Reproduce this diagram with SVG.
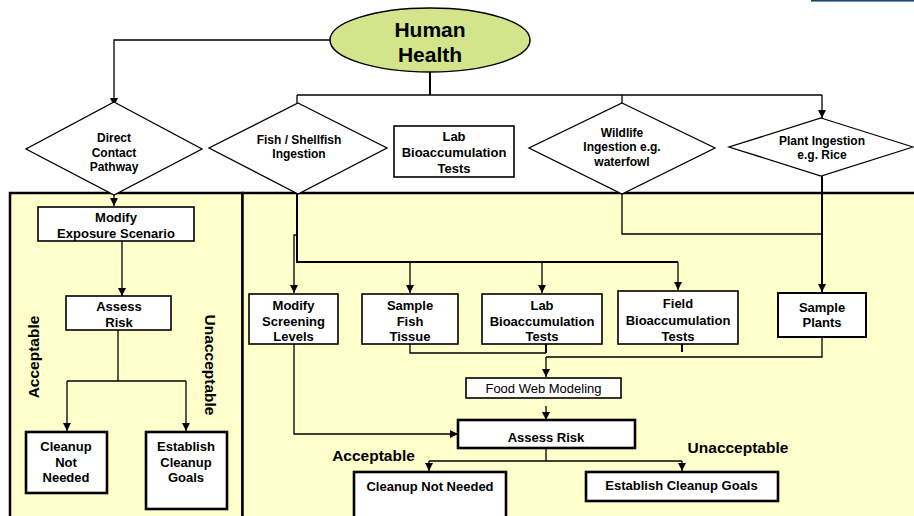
<svg xmlns="http://www.w3.org/2000/svg" width="914" height="516" viewBox="0 0 914 516">
  <defs>
    <marker id="arrow" markerUnits="userSpaceOnUse" markerWidth="8" markerHeight="8" refX="8" refY="4" orient="auto">
      <path d="M0,0 L8,4 L0,8 z" fill="#000"/>
    </marker>
    <style>
      .panel { fill: #FFFFCC; stroke: #000; stroke-width: 2.5; }
      .box { fill: #fff; stroke: #000; stroke-width: 1.6; }
      .boxb { fill: #fff; stroke: #000; stroke-width: 2.6; }
      .dia { fill: #fff; stroke: #000; stroke-width: 1.3; }
      .ln { fill: none; stroke: #000; stroke-width: 1.3; }
      .lnb { fill: none; stroke: #000; stroke-width: 2; }
      .arr { marker-end: url(#arrow); }
      text { font-family: "Liberation Sans", Arial, sans-serif; font-weight: bold; text-anchor: middle; fill: #000; }
      .t12 { font-size: 12px; }
      .t13 { font-size: 13px; }
      .lbl { font-size: 15.5px; }
      .title { font-size: 21px; }
      .reg { font-weight: normal; font-size: 13px; }
    </style>
  </defs>

  <rect width="914" height="516" fill="#fff"/>
  <rect x="811" y="0" width="103" height="1.6" fill="#1a4a6e"/>

  <!-- panels -->
  <g id="panel-direct">
    <rect class="panel" x="10" y="193" width="232.5" height="340"/>
  </g>
  <g id="panel-ingestion">
    <rect class="panel" x="242.5" y="193" width="690" height="340"/>
  </g>

  <!-- connectors -->
  <g id="connectors">
    <path class="ln arr" d="M330,40 H114 V106"/>
    <path class="lnb" d="M430,72 V95"/>
    <path class="ln" d="M297,95 H822"/>
    <path class="ln" d="M297,95 V103"/>
    <path class="ln arr" d="M622,95 V117"/>
    <path class="ln arr" d="M822,95 V118"/>

    <path class="ln arr" d="M114,177 V206"/>

    <path class="lnb" d="M297,176 V262 H678"/>
    <path class="ln arr" d="M410,262 V293"/>
    <path class="ln arr" d="M542,262 V293"/>
    <path class="ln arr" d="M678,262 V290"/>
    <path class="ln arr" d="M297,235 H294 V293"/>

    <path class="ln" d="M622,176 V234 H822"/>
    <path class="lnb arr" d="M822,176 V292"/>

    <path class="ln" d="M410,344 V353 H546"/>
    <path class="lnb" d="M546,344 V353"/>
    <path class="lnb" d="M682,344 V352"/>
    <path class="ln" d="M546,357 H822 V337"/>
    <path class="ln arr" d="M546,357 V377"/>

    <path class="ln arr" d="M546,406 V420"/>
    <path class="ln arr" d="M294,344 V434 H458"/>

    <path class="ln" d="M546,448 V461"/>
    <path class="ln" d="M429,461 H682"/>
    <path class="ln arr" d="M429,461 V471"/>
    <path class="ln arr" d="M682,461 V471"/>

    <path class="ln arr" d="M122,241 V296"/>
    <path class="ln" d="M118,330 V381"/>
    <path class="ln" d="M67,381 H186"/>
    <path class="ln arr" d="M67,381 V431"/>
    <path class="ln arr" d="M186,381 V431"/>
  </g>

  <!-- root -->
  <g id="human-health">
    <ellipse cx="430" cy="40" rx="100" ry="32" fill="#D2E58B" stroke="#000" stroke-width="1.5"/>
    <text class="title" x="430" y="36.5">Human</text>
    <text class="title" x="430" y="61.5">Health</text>
  </g>

  <!-- pathways -->
  <g id="direct-contact">
    <polygon class="dia" points="114,102 202,149 114,195 26,149"/>
    <text class="t12" x="114" y="142">Direct</text>
    <text class="t12" x="114" y="156.5">Contact</text>
    <text class="t12" x="114" y="171">Pathway</text>
  </g>
  <g id="fish-ingestion">
    <polygon class="dia" points="298,103 387,148 298,194 209,148"/>
    <text class="t12" x="299" y="144">Fish / Shellfish</text>
    <text class="t12" x="299" y="158">Ingestion</text>
  </g>
  <g id="lab-bioaccumulation-top">
    <rect class="box" x="394" y="126" width="120" height="51"/>
    <text class="t13" x="454" y="141">Lab</text>
    <text class="t13" x="454" y="157">Bioaccumulation</text>
    <text class="t13" x="454" y="173">Tests</text>
  </g>
  <g id="wildlife-ingestion">
    <polygon class="dia" points="622,103 715,148 622,194 529,148"/>
    <text class="t12" x="622" y="137">Wildlife</text>
    <text class="t12" x="622" y="151">Ingestion e.g.</text>
    <text class="t12" x="622" y="166">waterfowl</text>
  </g>
  <g id="plant-ingestion">
    <polygon class="dia" points="821,118 913,147 821,176 729,147"/>
    <text class="t12" x="822" y="145">Plant Ingestion</text>
    <text class="t12" x="822" y="159">e.g. Rice</text>
  </g>

  <!-- direct contact branch -->
  <g id="modify-exposure">
    <rect class="box" x="38" y="207" width="156" height="34"/>
    <text class="t13" x="116" y="222">Modify</text>
    <text class="t13" x="116" y="238">Exposure Scenario</text>
  </g>
  <g id="assess-risk-direct">
    <rect class="box" x="66" y="296" width="105" height="34"/>
    <text class="t13" x="119" y="311">Assess</text>
    <text class="t13" x="119" y="327">Risk</text>
  </g>
  <g id="cleanup-not-needed-direct">
    <rect class="boxb" x="26" y="432" width="81" height="61"/>
    <text class="t13" x="66" y="451">Cleanup</text>
    <text class="t13" x="66" y="467">Not</text>
    <text class="t13" x="66" y="482">Needed</text>
  </g>
  <g id="establish-goals-direct">
    <rect class="boxb" x="146" y="432" width="81" height="77"/>
    <text class="t13" x="186" y="451">Establish</text>
    <text class="t13" x="186" y="467">Cleanup</text>
    <text class="t13" x="186" y="482">Goals</text>
  </g>
  <text class="lbl" transform="translate(38.5,357) rotate(-90)">Acceptable</text>
  <text class="lbl" transform="translate(204.5,365) rotate(90)">Unacceptable</text>

  <!-- ingestion branch -->
  <g id="modify-screening">
    <rect class="box" x="249" y="294" width="89" height="50"/>
    <text class="t13" x="293.5" y="310">Modify</text>
    <text class="t13" x="293.5" y="326">Screening</text>
    <text class="t13" x="293.5" y="341">Levels</text>
  </g>
  <g id="sample-fish">
    <rect class="box" x="362" y="294" width="96" height="50"/>
    <text class="t13" x="410" y="310">Sample</text>
    <text class="t13" x="410" y="326">Fish</text>
    <text class="t13" x="410" y="341">Tissue</text>
  </g>
  <g id="lab-bioaccumulation">
    <rect class="box" x="482" y="294" width="120" height="50"/>
    <text class="t13" x="542" y="310">Lab</text>
    <text class="t13" x="542" y="326">Bioaccumulation</text>
    <text class="t13" x="542" y="341">Tests</text>
  </g>
  <g id="field-bioaccumulation">
    <rect class="box" x="618" y="291" width="120" height="53"/>
    <text class="t13" x="678" y="308">Field</text>
    <text class="t13" x="678" y="325">Bioaccumulation</text>
    <text class="t13" x="678" y="341">Tests</text>
  </g>
  <g id="sample-plants">
    <rect class="boxb" x="778" y="293" width="88" height="44" style="stroke-width:2"/>
    <text class="t13" x="822" y="312">Sample</text>
    <text class="t13" x="822" y="327">Plants</text>
  </g>
  <g id="food-web">
    <rect class="box" x="466" y="378" width="155" height="20"/>
    <text class="reg" x="543.5" y="393">Food Web Modeling</text>
  </g>
  <g id="assess-risk">
    <rect class="boxb" x="458" y="420" width="177" height="28"/>
    <text class="t13" x="546" y="442">Assess Risk</text>
  </g>
  <g id="cleanup-not-needed">
    <rect class="boxb" x="354" y="472" width="152" height="60"/>
    <text class="t13" x="430" y="491">Cleanup Not Needed</text>
  </g>
  <g id="establish-goals">
    <rect class="boxb" x="586" y="472" width="192" height="29"/>
    <text class="t13" x="681.5" y="490">Establish Cleanup Goals</text>
  </g>
  <text class="lbl" x="373.5" y="461">Acceptable</text>
  <text class="lbl" x="738" y="453">Unacceptable</text>
</svg>
